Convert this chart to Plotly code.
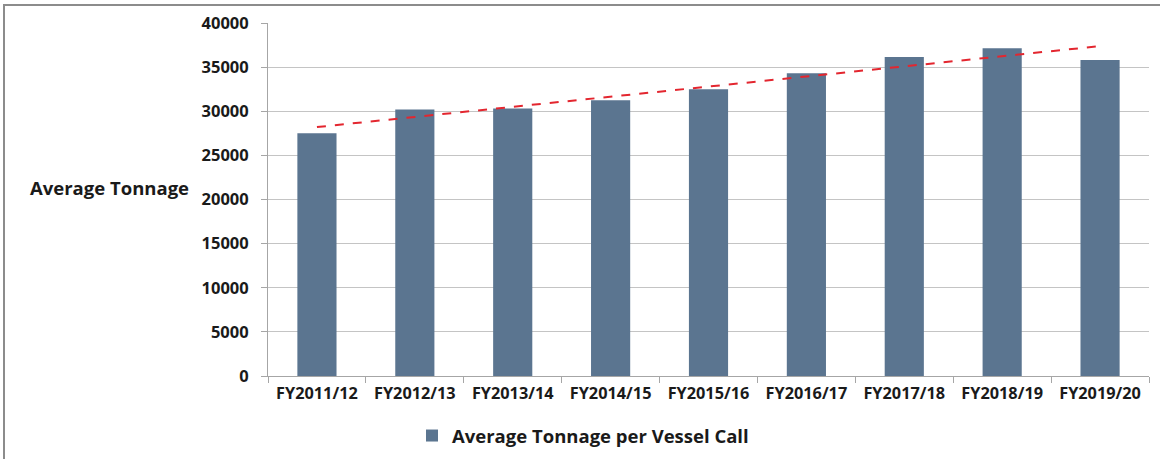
import numpy as np
import plotly.graph_objects as go

categories = ["FY2011/12", "FY2012/13", "FY2013/14", "FY2014/15", "FY2015/16",
              "FY2016/17", "FY2017/18", "FY2018/19", "FY2019/20"]
avg_tonnage = [27500, 30200, 30300, 31250, 32500, 34300, 36150, 37150, 35800]
y_ticks = [0, 5000, 10000, 15000, 20000, 25000, 30000, 35000, 40000]

# linear trendline (as in the spreadsheet chart)
xi = np.arange(1, len(avg_tonnage) + 1)
slope, intercept = np.polyfit(xi, avg_tonnage, 1)
trend = [slope * xi[0] + intercept, slope * xi[-1] + intercept]

W, H = 1160, 459
L, R, T, B = 268, 11, 23, 83
pw, ph = W - L - R, H - T - B

def px(x):
    return (x - L) / pw

def py(y):
    return (H - B - y) / ph

FONT = "Open Sans"
TXT = "#1a1a1a"

fig = go.Figure()
fig.add_trace(go.Bar(
    x=categories, y=avg_tonnage, name="Average Tonnage per Vessel Call",
    marker=dict(color="#5b7590", line=dict(width=0)),
))
fig.add_trace(go.Scatter(
    x=[categories[0], categories[-1]], y=trend, mode="lines",
    line=dict(color="#e3262f", width=2, dash="dash"), showlegend=False,
    hoverinfo="skip",
))

fig.update_layout(
    width=W, height=H,
    margin=dict(l=L, r=R, t=T, b=B, autoexpand=False),
    paper_bgcolor="white", plot_bgcolor="white",
    bargap=0.6,
    font=dict(family=FONT, color=TXT),
    showlegend=True,
    legend=dict(orientation="h", x=px(412), xanchor="left", y=py(436), yanchor="middle",
                font=dict(family=FONT, size=18.5, color=TXT, weight="bold"),
                itemwidth=30),
    xaxis=dict(
        type="category", tickson="boundaries", ticks="outside", ticklen=6,
        tickcolor="#a6a6a6", showline=True, linecolor="#a6a6a6", linewidth=1,
        showgrid=False, ticklabelstandoff=2,
        tickfont=dict(family=FONT, size=16.3, color=TXT, weight="bold"),
    ),
    yaxis=dict(
        range=[0, 40000], tickvals=y_ticks, ticktext=[str(v) for v in y_ticks],
        ticks="outside", ticklen=6, tickcolor="#a6a6a6",
        showline=True, linecolor="#a6a6a6", linewidth=1,
        showgrid=True, gridcolor="#c4c4c4", gridwidth=1, zeroline=False,
        ticklabelstandoff=9,
        tickfont=dict(family=FONT, size=16.5, color=TXT, weight="bold"),
    ),
    annotations=[dict(
        text="Average Tonnage", xref="paper", yref="paper",
        x=px(28), y=py(187), xanchor="left", yanchor="middle", showarrow=False,
        font=dict(family=FONT, size=18.5, color=TXT, weight="bold"),
    )],
    shapes=[dict(
        type="rect", xref="paper", yref="paper",
        x0=px(4), x1=px(1175), y0=py(5), y1=py(475),
        line=dict(color="#8c8c8c", width=2), layer="below",
    )],
)

fig.write_html("out.html")
